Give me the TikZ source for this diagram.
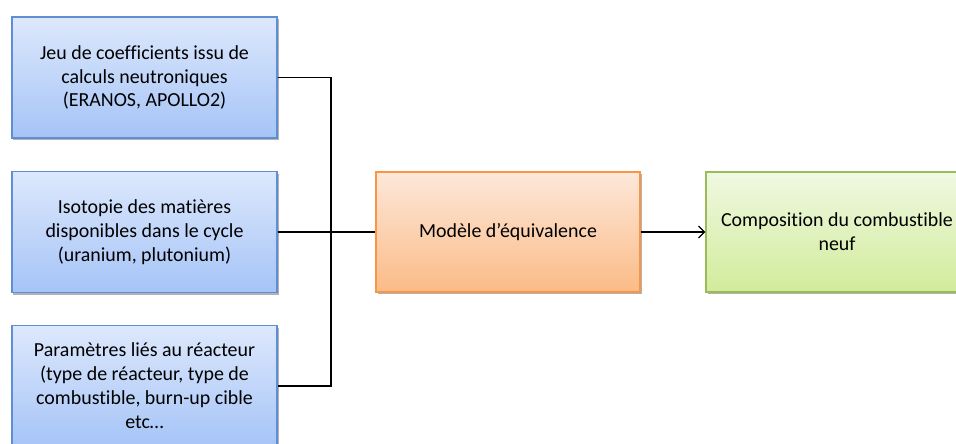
\documentclass[tikz,border=0pt]{standalone}
\usepackage{fontspec}
\setmainfont[Ligatures=NoCommon]{Carlito}
\usetikzlibrary{shadows,arrows.meta}
\definecolor{blueT}{HTML}{DDE8FC}
\definecolor{blueB}{HTML}{A5C4F7}
\definecolor{blueD}{HTML}{5F8FD2}
\definecolor{orT}{HTML}{FDE8DA}
\definecolor{orB}{HTML}{FBBB86}
\definecolor{orD}{HTML}{F79646}
\definecolor{grT}{HTML}{F0F8E2}
\definecolor{grB}{HTML}{D1EC9B}
\definecolor{grD}{HTML}{9BBB59}
\tikzset{
  box/.style={rectangle, minimum width=265bp, minimum height=121bp, inner sep=0pt,
    align=center, line width=1.1bp, text=black, font=\fontsize{20}{24}\selectfont,
    drop shadow={shadow xshift=1.5bp, shadow yshift=-2.5bp, opacity=0.3, fill=black}},
  bluebox/.style={box, draw=blueD, top color=blueT, bottom color=blueB},
  orbox/.style={box, draw=orD, top color=orT, bottom color=orB, minimum width=264bp, minimum height=120bp},
  grbox/.style={box, draw=grD, top color=grT, bottom color=grB, minimum width=262bp, minimum height=120bp},
  conn/.style={line width=1.3bp, black},
  arr/.style={conn, -{Straight Barb[length=6bp,width=12bp,line width=1.3bp]}}
}
\begin{document}
\begin{tikzpicture}[x=1bp,y=-1bp]
\useasboundingbox (0,0) rectangle (956,444);
\node[bluebox] (b1) at (144.5,77.5) {Jeu de coefficients issu de\\calculs neutroniques\\(ERANOS, APOLLO2)};
\node[bluebox] (b2) at (144.5,232) {Isotopie des matières\\disponibles dans le cycle\\(uranium, plutonium)};
\node[bluebox] (b3) at (144.5,386) {Paramètres liés au réacteur\\(type de réacteur, type de\\combustible, burn-up cible\\etc…};
\node[orbox] (mod) at (508,232) {Modèle d’équivalence};
\node[grbox] (comp) at (837,232) {Composition du combustible\\neuf};
\coordinate (j) at (331,232);
\draw[conn] (b1.east) -| (j) |- (b3.east);
\draw[conn] (b2.east) -- (mod.west);
\draw[arr] (mod.east) -- (comp.west);
\end{tikzpicture}
\end{document}
